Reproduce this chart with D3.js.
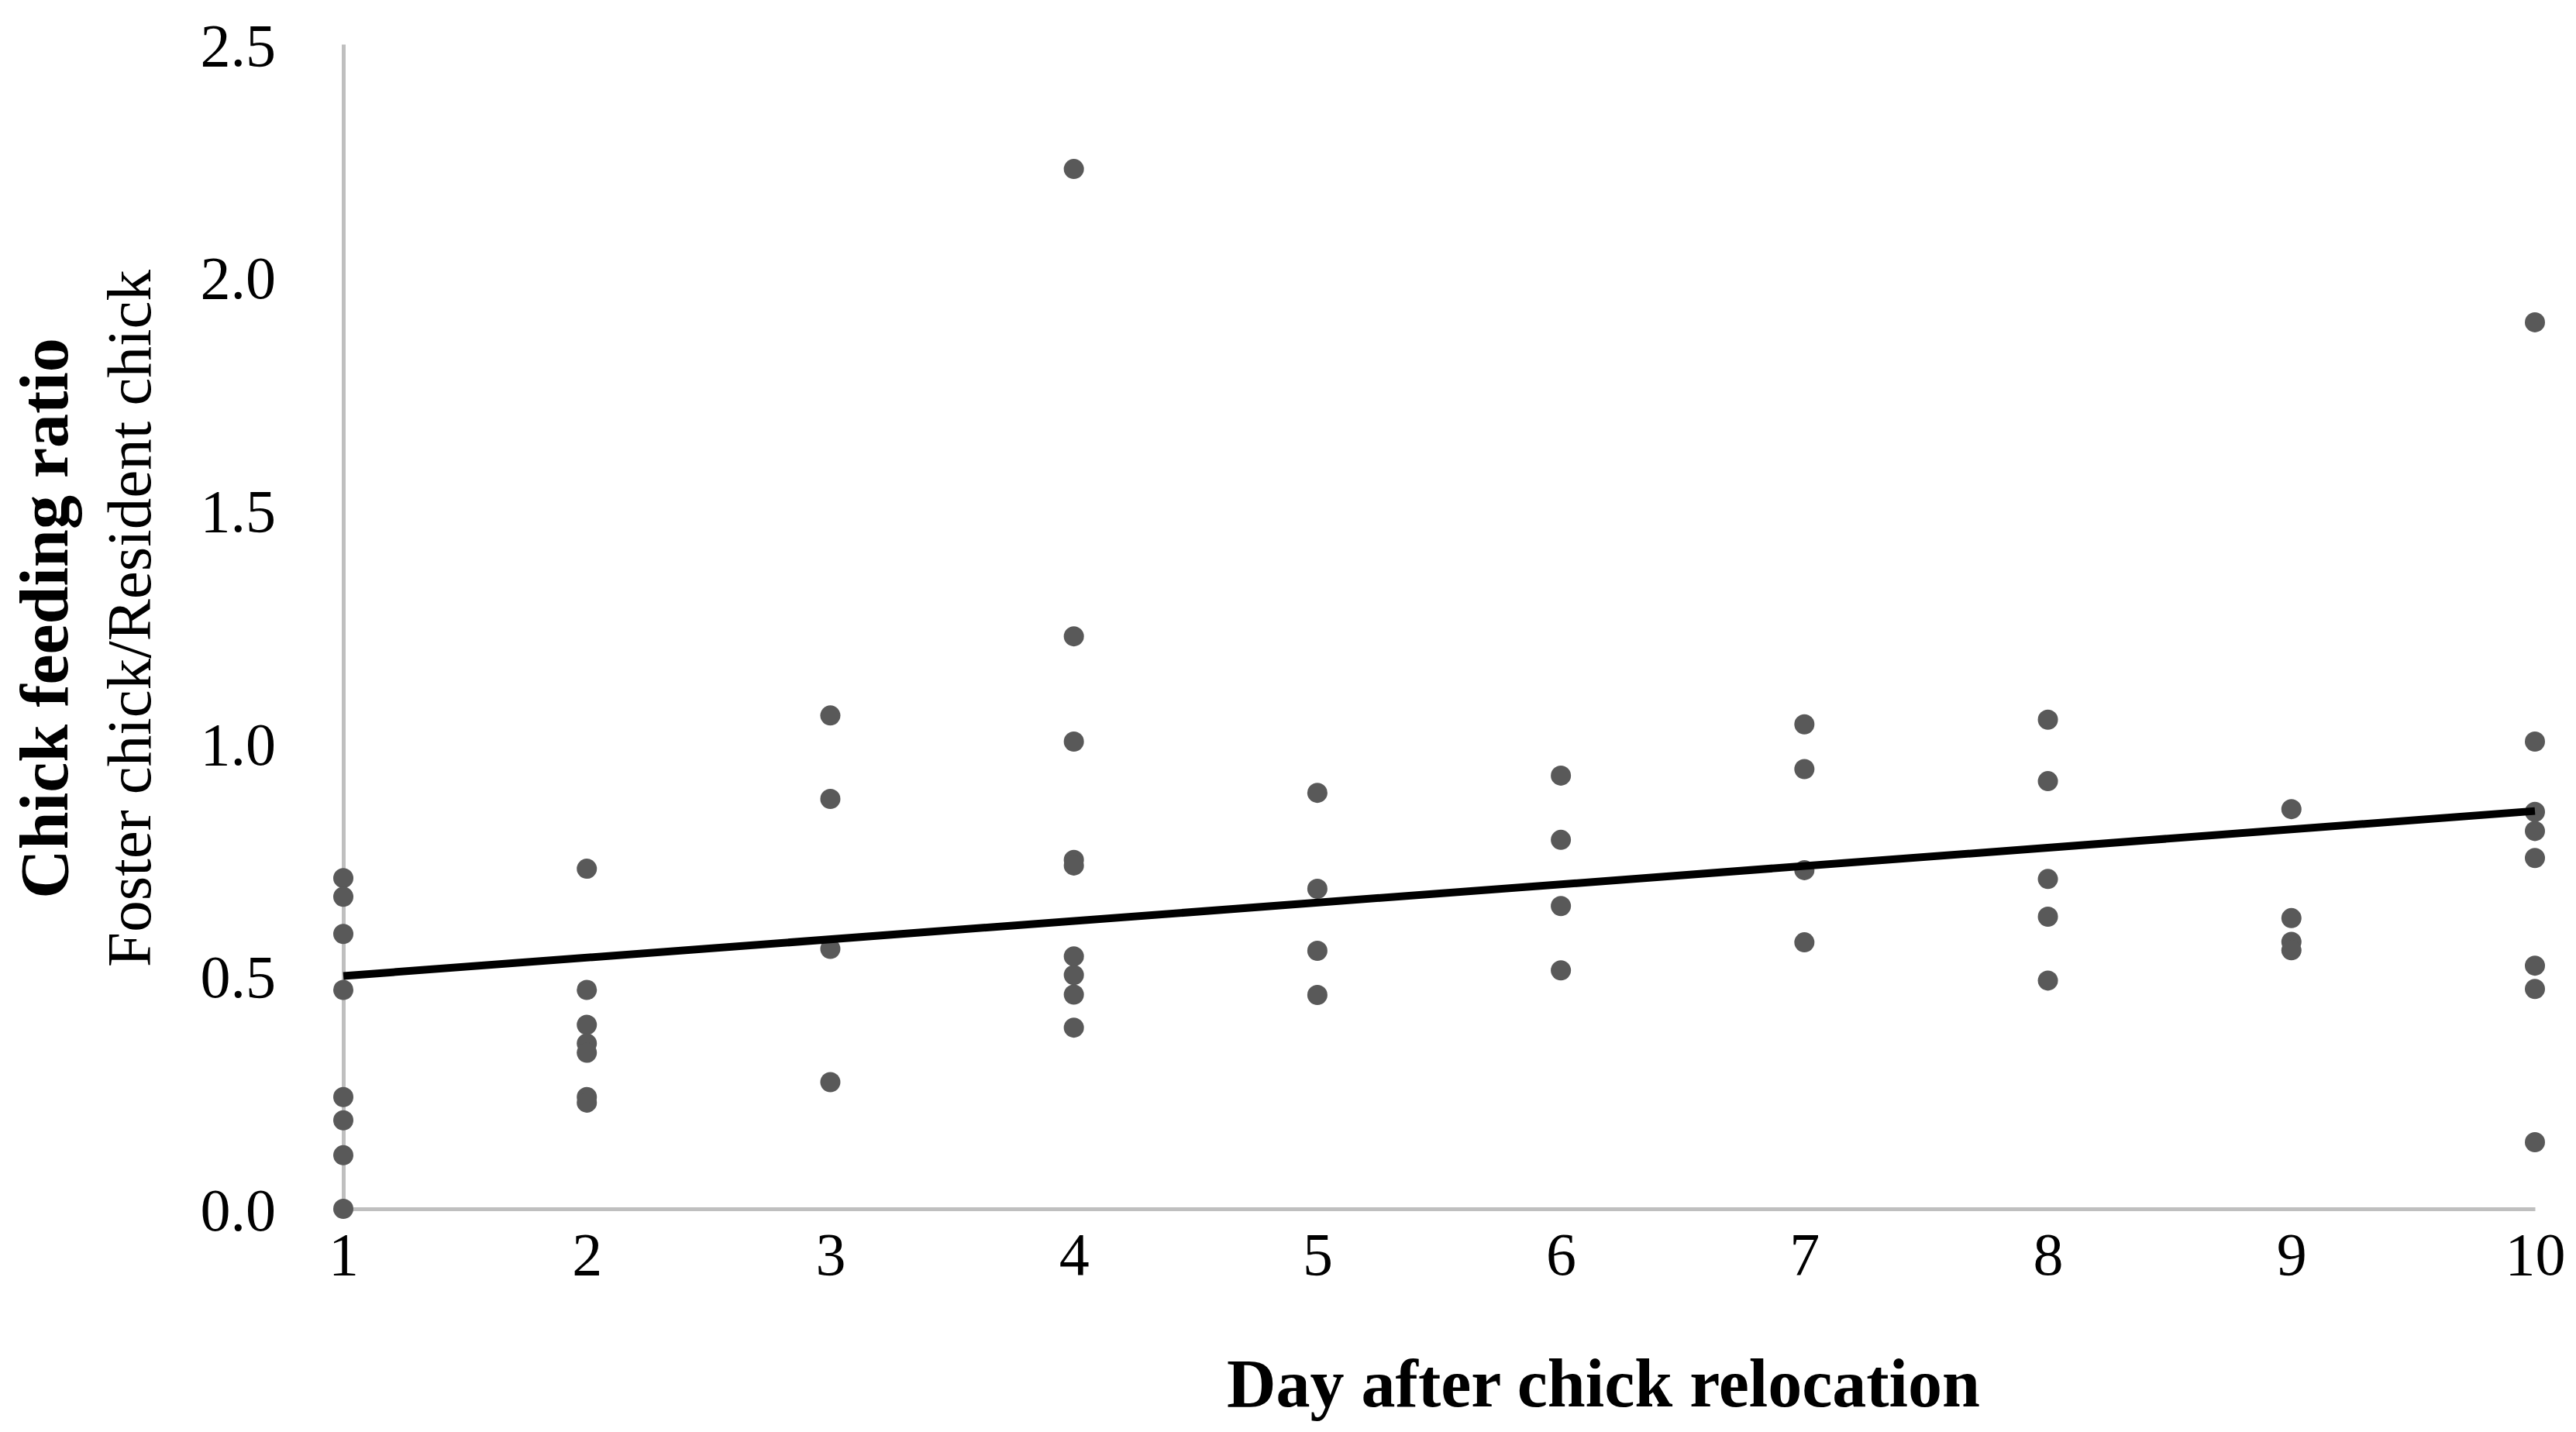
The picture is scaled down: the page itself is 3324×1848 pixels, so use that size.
<!DOCTYPE html>
<html lang="en">
<head>
    <meta charset="UTF-8">
    <title>Chick feeding ratio by day</title>
    <script src="https://d3js.org/d3.v7.min.js"></script>
    <style>
        body { margin: 0; background: #fff; }
        svg { display: block; }
        .tick text { font-family: "Liberation Serif", "DejaVu Serif", serif; fill: #000; }
        .title { font-family: "Liberation Serif", "DejaVu Serif", serif; fill: #000; }
    </style>
</head>
<body>
    <svg width="3324" height="1848"></svg>
    <script>
        // feeding ratio (foster / resident) read per day
        const days = [1, 2, 3, 4, 5, 6, 7, 8, 9, 10];
        const day1 = [0.71, 0.67, 0.59, 0.47, 0.24, 0.19, 0.115, 0.0];
        const day2 = [0.73, 0.47, 0.395, 0.355, 0.335, 0.24, 0.228];
        const day3 = [1.059, 0.88, 0.558, 0.272];
        const day4 = [2.232, 1.229, 1.003, 0.749, 0.737, 0.542, 0.502, 0.46, 0.389];
        const day5 = [0.893, 0.687, 0.554, 0.459];
        const day6 = [0.93, 0.792, 0.65, 0.512];
        const day7 = [1.04, 0.944, 0.727, 0.572];
        const day8 = [1.05, 0.918, 0.708, 0.627, 0.49];
        const day9 = [0.858, 0.624, 0.573, 0.555];
        const day10 = [1.903, 1.003, 0.852, 0.811, 0.753, 0.522, 0.472, 0.143];
        const yTicks = [0, 0.5, 1.0, 1.5, 2.0, 2.5];

        const byDay = [day1, day2, day3, day4, day5, day6, day7, day8, day9, day10];
        const points = [];
        byDay.forEach((vals, i) => vals.forEach(v => points.push({day: days[i], value: v})));

        const svg = d3.select("svg");

        const x = d3.scaleLinear().domain([1, 10]).range([443, 3271]);
        const y = d3.scaleLinear().domain([0, 2.5]).range([1560, 57]);

        // y axis
        const yAxis = svg.append("g")
            .attr("transform", `translate(${x(1)},0)`)
            .call(d3.axisLeft(y).tickValues(yTicks).tickFormat(d3.format(".1f"))
                .tickSize(0).tickPadding(87));
        yAxis.select(".domain").attr("stroke", "#bfbfbf").attr("stroke-width", 5);
        yAxis.selectAll(".tick text").style("font-size", "78px").attr("dy", "0.35em");

        // x axis
        const xAxis = svg.append("g")
            .attr("transform", `translate(0,${y(0)})`)
            .call(d3.axisBottom(x).tickValues(days).tickFormat(d3.format("d"))
                .tickSize(0).tickPadding(30));
        xAxis.select(".domain").attr("stroke", "#bfbfbf").attr("stroke-width", 5);
        xAxis.selectAll(".tick text").style("font-size", "78px");

        // points
        svg.append("g")
            .selectAll("circle")
            .data(points)
            .enter().append("circle")
            .attr("cx", d => x(d.day))
            .attr("cy", d => y(d.value))
            .attr("r", 13)
            .attr("fill", "#595959");

        // linear trend line (least squares)
        const mx = d3.mean(points, d => d.day);
        const my = d3.mean(points, d => d.value);
        const slope = d3.sum(points, d => (d.day - mx) * (d.value - my)) /
                      d3.sum(points, d => (d.day - mx) * (d.day - mx));
        const intercept = my - slope * mx;
        const trend = [1, 10].map(d => ({day: d, value: intercept + slope * d}));

        svg.append("path")
            .datum(trend)
            .attr("fill", "none")
            .attr("stroke", "#000")
            .attr("stroke-width", 10)
            .attr("d", d3.line().x(d => x(d.day)).y(d => y(d.value)));

        // titles
        svg.append("text")
            .attr("class", "title")
            .attr("x", 2069)
            .attr("y", 1815)
            .attr("text-anchor", "middle")
            .style("font-size", "88px")
            .style("font-weight", "bold")
            .text("Day after chick relocation");

        svg.append("text")
            .attr("class", "title")
            .attr("transform", "translate(87,798) rotate(-90)")
            .attr("text-anchor", "middle")
            .style("font-size", "88px")
            .style("font-weight", "bold")
            .text("Chick feeding ratio");

        svg.append("text")
            .attr("class", "title")
            .attr("transform", "translate(194,798) rotate(-90)")
            .attr("text-anchor", "middle")
            .style("font-size", "81px")
            .text("Foster chick/Resident chick");
    </script>
</body>
</html>
